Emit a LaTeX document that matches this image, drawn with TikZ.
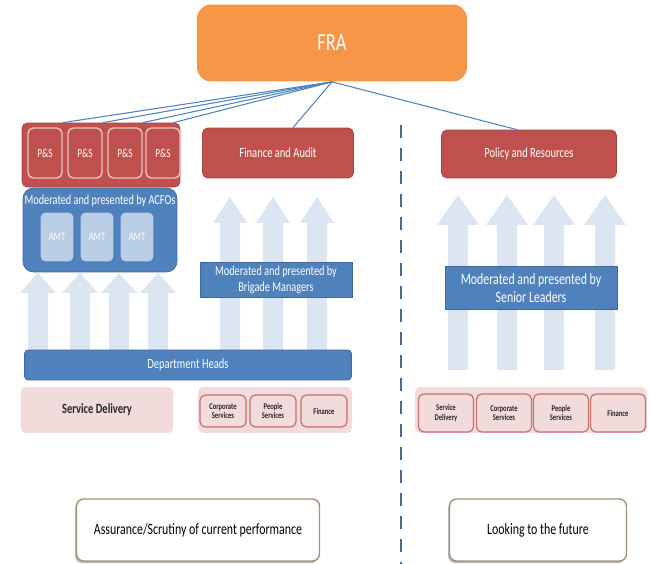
\documentclass[tikz,border=0pt]{standalone}
\usepackage{fontspec}
\setmainfont{Carlito}[FakeStretch=0.75]
\usepackage{xcolor}
\usepackage{tikz}
\usetikzlibrary{shadows}

\definecolor{fraorange}{HTML}{F79646}
\definecolor{boardred}{HTML}{C0504D}
\definecolor{modblue}{HTML}{4F81BD}
\definecolor{amtblue}{HTML}{B9CDE5}
\definecolor{flowgrey}{HTML}{DCE6F2}
\definecolor{deptpink}{HTML}{F2DCDB}
\definecolor{pinkedge}{HTML}{C8706E}
\definecolor{dashblue}{HTML}{4A6A94}

\newcommand{\flowarrow}[6]{%
  \fill[flowgrey] (#1-#5,#3) -- (#1-#5,#2+#6) -- (#1-#4,#2+#6) -- (#1,#2)
    -- (#1+#4,#2+#6) -- (#1+#5,#2+#6) -- (#1+#5,#3) -- cycle;}

\tikzset{
  box/.style={rounded corners=3pt, align=center, inner sep=1pt},
  boardbox/.style={box, fill=boardred, draw=boardred!85!black, text=white,
    font=\fontsize{8}{9}\selectfont},
  psbox/.style={box, fill=boardred, draw=boardred!35!white, line width=0.8pt,
    text=white, minimum width=0.68cm, minimum height=1.0cm,
    font=\fontsize{7}{8}\selectfont},
  bluebox/.style={box, fill=modblue, draw=modblue!80!black, text=white,
    font=\fontsize{7.8}{9}\selectfont},
  amtbox/.style={box, fill=amtblue, draw=none, text=white, minimum width=0.66cm,
    minimum height=0.98cm, font=\fontsize{6.5}{7}\selectfont},
  pinkgroup/.style={box, fill=deptpink, draw=none, minimum height=0.92cm},
  smallbox/.style={box, fill=deptpink, draw=pinkedge, line width=0.7pt,
    text=black!85, font=\bfseries\fontsize{5}{5.5}\selectfont},
  scopebox/.style={box, rounded corners=4pt, fill=white, draw=black!45!brown!60,
    line width=0.8pt, minimum height=1.24cm, text=black,
    font=\fontsize{9}{10}\selectfont,
    drop shadow={shadow xshift=-0.8pt, shadow yshift=-1.2pt, fill=black!55}},
  fraline/.style={draw=modblue, line width=0.6pt}
}

\begin{document}
\begin{tikzpicture}[x=0.02cm, y=-0.02cm]
\useasboundingbox (0,0) rectangle (650,564);

% flows upwards
\foreach \x in {38,80,119,158} {\flowarrow{\x}{273}{350}{18}{10}{20}}
\foreach \x in {230,273,317} {\flowarrow{\x}{197}{350}{17}{10}{26}}
\foreach \x in {458,507,554,605} {\flowarrow{\x}{195}{370}{21}{10}{30}}

% top
\node[box, rounded corners=8pt, fill=fraorange, text=white, minimum width=5.4cm,
  minimum height=1.54cm, font=\fontsize{14}{16}\selectfont] (fra) at (332,43) {FRA};

% left side: current performance
\node[box, fill=boardred, draw=boardred!85!black, minimum width=3.16cm,
  minimum height=1.28cm] (psgrp) at (101,155) {};
\node[psbox] (ps1) at (45,153) {P\&S};
\node[psbox] (ps2) at (85,153) {P\&S};
\node[psbox] (ps3) at (125,153) {P\&S};
\node[psbox] (ps4) at (163,153) {P\&S};

\node[bluebox, rounded corners=6pt, minimum width=3.08cm, minimum height=1.68cm]
  (acfo) at (100,230) {};
\node[text=white, font=\fontsize{7.8}{9}\selectfont, inner sep=0pt] (acfotext) at (100,201)
  {Moderated and presented by ACFOs};
\node[amtbox] (amt1) at (57,237) {AMT};
\node[amtbox] (amt2) at (97,237) {AMT};
\node[amtbox] (amt3) at (137,237) {AMT};

\node[boardbox, minimum width=3.02cm, minimum height=1.0cm] (finaud) at (278,153)
  {Finance and Audit};
\node[bluebox, rounded corners=0pt, minimum width=3.04cm, minimum height=0.7cm]
  (brigade) at (276,280) {Moderated and presented by\\Brigade Managers};

\node[bluebox, rounded corners=2pt, minimum width=6.54cm, minimum height=0.6cm,
  font=\fontsize{8}{9}\selectfont] (dept) at (188,365) {Department Heads};

\node[pinkgroup, minimum width=3.06cm, text=black!85,
  font=\bfseries\fontsize{8}{9}\selectfont] (servdel) at (97,410) {Service Delivery};
\node[pinkgroup, minimum width=3.08cm] (lgrp) at (275,410) {};
\node[smallbox, minimum width=0.92cm, minimum height=0.64cm] (corp) at (223,411)
  {Corporate\\Services};
\node[smallbox, minimum width=0.92cm, minimum height=0.64cm] (people) at (273,411)
  {People\\Services};
\node[smallbox, minimum width=0.92cm, minimum height=0.64cm] (fin) at (324,411)
  {Finance};

% right side: looking ahead
\node[boardbox, minimum width=3.5cm, minimum height=0.96cm] (policy) at (529,154)
  {Policy and Resources};
\node[bluebox, rounded corners=0pt, minimum width=3.44cm, minimum height=0.86cm,
  font=\fontsize{9}{10.5}\selectfont] (senior) at (531,288)
  {Moderated and presented by\\Senior Leaders};
\node[pinkgroup, minimum width=4.64cm] (rgrp) at (531,410) {};
\node[smallbox, minimum width=1.1cm, minimum height=0.76cm] (rserv) at (446,413)
  {Service\\Delivery};
\node[smallbox, minimum width=1.1cm, minimum height=0.76cm] (rcorp) at (504,413)
  {Corporate\\Services};
\node[smallbox, minimum width=1.1cm, minimum height=0.76cm] (rpeople) at (561,413)
  {People\\Services};
\node[smallbox, minimum width=1.1cm, minimum height=0.76cm] (rfin) at (618,413)
  {Finance};

% divider
\draw[dashblue, line width=0.9pt, dash pattern=on 7.4pt off 5.7pt] (401,125) -- (401,564);

% captions
\node[scopebox, minimum width=4.86cm] (assur) at (198,530)
  {Assurance/Scrutiny of current performance};
\node[scopebox, minimum width=3.54cm] (future) at (538,530) {Looking to the future};

% links from FRA
\foreach \n in {ps1,ps2,ps3}
  \draw[fraline] (fra.south) -- (\n.north east |- psgrp.north);
\draw[fraline] (fra.south) -- ([xshift=-0.14cm]psgrp.north east);
\draw[fraline] (fra.south) -- ([xshift=0.3cm]finaud.north);
\draw[fraline] (fra.south) -- ([xshift=-0.24cm]policy.north);
\end{tikzpicture}
\end{document}
